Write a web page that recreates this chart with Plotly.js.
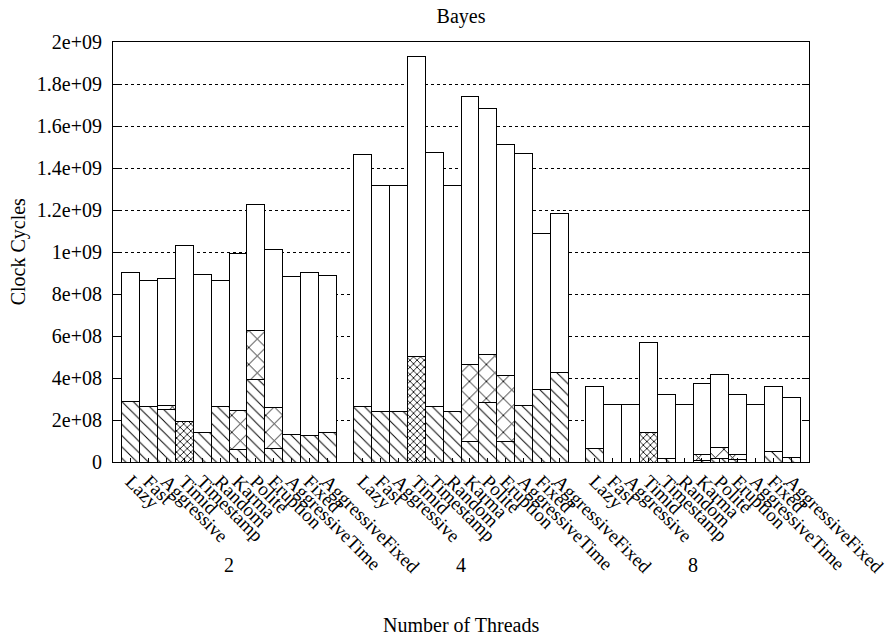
<!DOCTYPE html>
<html>
<head>
<meta charset="utf-8">
<script src="https://cdn.plot.ly/plotly-3.0.1.min.js"></script>
<style>html,body{margin:0;padding:0;background:#fff}#chart{width:888px;height:639px}</style>
</head>
<body>
<div id="chart"></div>
<script>
// ---- data ----
const categories = ['Lazy','Fast','Aggressive','Timid','Timestamp','Random','Karma','Polite','Eruption','AggressiveTime','Fixed','AggressiveFixed'];
const threadGroups = ['2','4','8'];

// bar totals (clock cycles)
const total2 = [9.03e8, 8.63e8, 8.73e8, 1.032e9, 8.95e8, 8.63e8, 9.94e8, 1.224e9, 1.01e9, 8.81e8, 9.03e8, 8.89e8];
const total4 = [1.465e9, 1.317e9, 1.317e9, 1.933e9, 1.473e9, 1.317e9, 1.740e9, 1.683e9, 1.513e9, 1.470e9, 1.088e9, 1.183e9];
const total8 = [3.60e8, 2.73e8, 2.73e8, 5.71e8, 3.22e8, 2.73e8, 3.75e8, 4.17e8, 3.22e8, 2.73e8, 3.60e8, 3.08e8];

// bottom segment (diagonal hatch)
const hatch2 = [2.86e8, 2.62e8, 2.52e8, 0, 1.41e8, 2.62e8, 5.9e7, 3.95e8, 6.5e7, 1.32e8, 1.27e8, 1.41e8];
const hatch4 = [2.63e8, 2.41e8, 2.41e8, 0, 2.63e8, 2.41e8, 9.8e7, 2.84e8, 9.8e7, 2.71e8, 3.43e8, 4.27e8];
const hatch8 = [6.5e7, 0, 0, 0, 1.9e7, 0, 6e6, 1.6e7, 1.0e7, 0, 5.2e7, 2.2e7];

// fine cross-hatched segment
const fine2 = [0, 0, 0, 1.92e8, 0, 0, 0, 0, 0, 0, 0, 0];
const fine4 = [0, 0, 0, 5.02e8, 0, 0, 0, 0, 0, 0, 0, 0];
const fine8 = [0, 0, 0, 1.41e8, 0, 0, 0, 0, 0, 0, 0, 0];

// coarse cross-hatched segment
const cross2 = [0, 0, 1.6e7, 0, 0, 0, 1.87e8, 2.29e8, 1.95e8, 0, 0, 0];
const cross4 = [0, 0, 0, 0, 0, 0, 3.67e8, 2.27e8, 3.13e8, 0, 0, 0];
const cross8 = [0, 0, 0, 0, 0, 0, 3.2e7, 5.4e7, 2.65e7, 0, 0, 0];

const yTickVals = [0, 2e8, 4e8, 6e8, 8e8, 1e9, 1.2e9, 1.4e9, 1.6e9, 1.8e9, 2e9];
const yTickText = ['0', '2e+08', '4e+08', '6e+08', '8e+08', '1e+09', '1.2e+09', '1.4e+09', '1.6e+09', '1.8e+09', '2e+09'];

// ---- build ----
const totals = [total2, total4, total8];
const hatches = [hatch2, hatch4, hatch8];
const fines = [fine2, fine4, fine8];
const crosses = [cross2, cross4, cross8];
const step = categories.length + 1;

const xs = [], hv = [], fv = [], cv = [], rv = [], tickText = [];
threadGroups.forEach((g, gi) => {
  categories.forEach((c, i) => {
    xs.push(gi * step + i);
    tickText.push(c);
    const h = hatches[gi][i], f = fines[gi][i], cr = crosses[gi][i];
    hv.push(h || null);
    fv.push(f || null);
    cv.push(cr || null);
    rv.push(totals[gi][i] - h - f - cr);
  });
});

const FONT = 'Liberation Serif, Times New Roman, serif';
const FS = 20;
const lineStyle = {color: '#000', width: 1};
function trace(y, pattern) {
  return {
    type: 'bar', x: xs, y: y, width: 1,
    marker: {color: '#fff', line: lineStyle, pattern: pattern},
    hoverinfo: 'y', showlegend: false
  };
}
const data = [
  trace(hv, {shape: '\\', size: 8, solidity: 0.12, fgcolor: '#000', bgcolor: '#fff', fillmode: 'replace'}),
  trace(fv, {shape: 'x', size: 5, solidity: 0.3, fgcolor: '#000', bgcolor: '#fff', fillmode: 'replace'}),
  trace(cv, {shape: 'x', size: 12, solidity: 0.14, fgcolor: '#000', bgcolor: '#fff', fillmode: 'replace'}),
  trace(rv, {shape: ''})
];

const annotations = threadGroups.map((g, gi) => ({
  text: g, xref: 'x', yref: 'paper',
  x: gi * step + (categories.length - 1) / 2, y: -0.245, yanchor: 'middle', xanchor: 'center',
  showarrow: false, font: {family: FONT, size: FS, color: '#000'}
}));
annotations.push({
  text: 'Number of Threads', xref: 'paper', yref: 'paper', x: 0.5, y: -0.388,
  xanchor: 'center', yanchor: 'middle',
  showarrow: false, font: {family: FONT, size: FS, color: '#000'}
});
annotations.push({
  text: 'Clock Cycles', xref: 'paper', yref: 'paper', x: -0.136, y: 0.5,
  xanchor: 'center', yanchor: 'middle',
  textangle: -90, showarrow: false, font: {family: FONT, size: FS, color: '#000'}
});

const layout = {
  width: 888, height: 639,
  margin: {l: 113, r: 79, t: 42, b: 177},
  paper_bgcolor: '#fff', plot_bgcolor: '#fff',
  barmode: 'stack', bargap: 0,
  font: {family: FONT, size: FS, color: '#000'},
  title: {text: 'Bayes', x: 0.5, xref: 'paper', xanchor: 'center', y: 1 - 16 / 639, yref: 'container', yanchor: 'middle',
          font: {family: FONT, size: FS, color: '#000'}},
  xaxis: {
    range: [-1, threadGroups.length * step - 1], tickmode: 'array', tickvals: xs, ticktext: tickText,
    tickangle: 45, ticks: 'inside', ticklen: 4, tickcolor: '#000', ticklabeloverflow: 'allow',
    showline: true, linecolor: '#000', linewidth: 1, mirror: true,
    showgrid: false, zeroline: false, fixedrange: true,
    tickfont: {family: FONT, size: 19, color: '#000'}
  },
  yaxis: {
    range: [0, 2e9], tickmode: 'array', tickvals: yTickVals, ticktext: yTickText,
    ticks: 'inside', ticklen: 7, tickcolor: '#000', ticklabelstandoff: 6,
    showline: true, linecolor: '#000', linewidth: 1, mirror: 'ticks',
    showgrid: true, gridcolor: '#000', gridwidth: 1, griddash: 'dot',
    zeroline: false, fixedrange: true,
    tickfont: {family: FONT, size: FS, color: '#000'}
  },
  annotations: annotations
};

Plotly.newPlot('chart', data, layout, {displayModeBar: false, staticPlot: true});
</script>
</body>
</html>
